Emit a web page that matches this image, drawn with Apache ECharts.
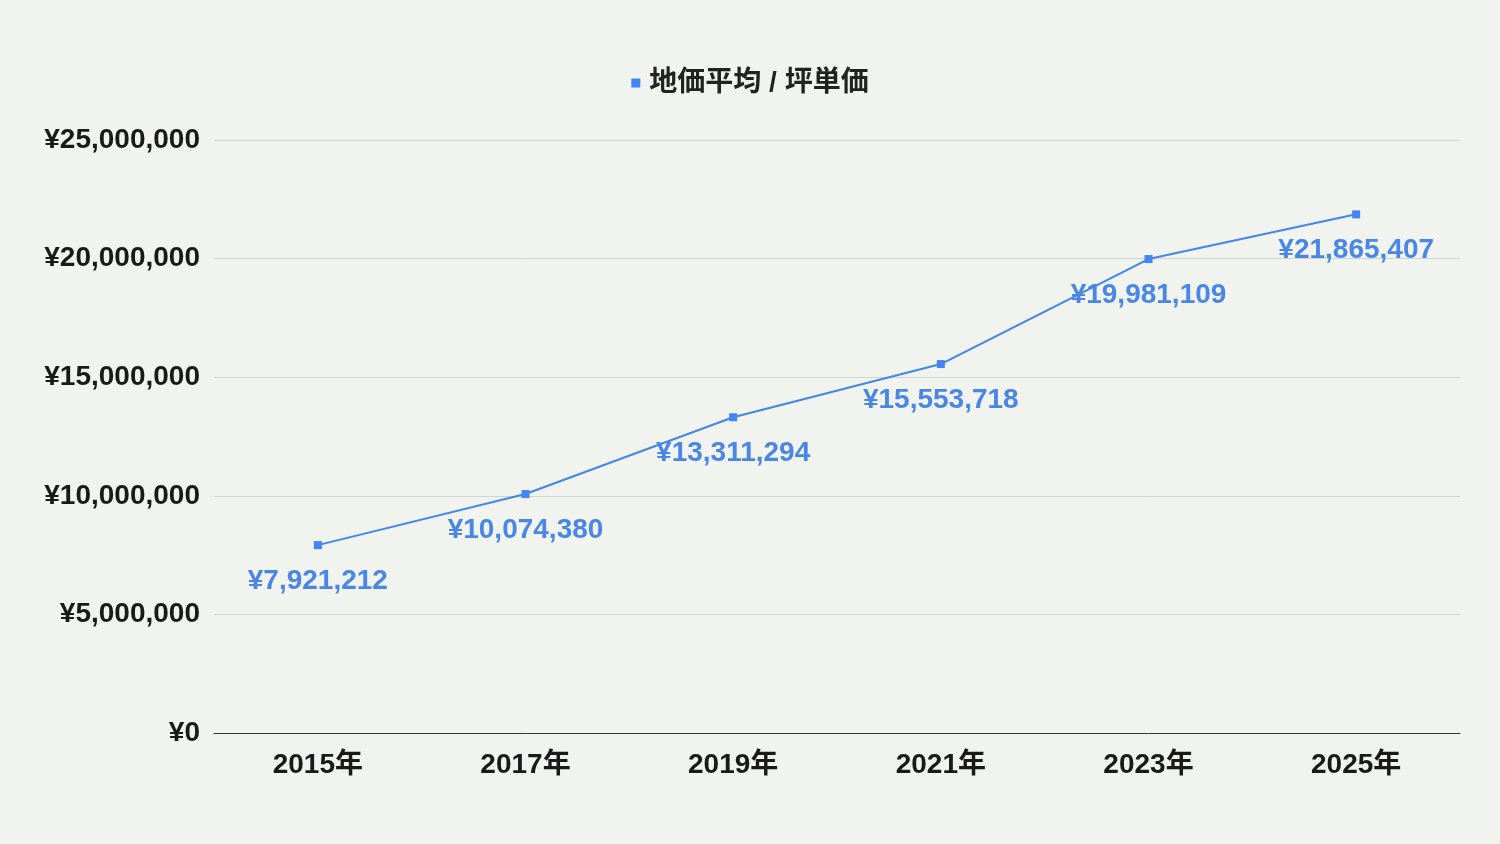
<!DOCTYPE html>
<html><head><meta charset="utf-8">
<script src="https://cdn.jsdelivr.net/npm/echarts@6/dist/echarts.min.js"></script>
<style>html,body{margin:0;padding:0;background:#f1f3ee;}#c{width:1500px;height:844px;}</style>
</head><body><div id="c"></div>
<script>
const categories = ['2015年','2017年','2019年','2021年','2023年','2025年'];
const values = [7921212, 10074380, 13311294, 15553718, 19981109, 21865407];
const seriesName = '地価平均 / 坪単価';
const yTicks = {min: 0, max: 25000000, interval: 5000000};

const yen = v => '¥' + Math.round(v).toLocaleString('en-US');
const font = '"Liberation Sans","Noto Sans CJK JP",sans-serif';
const chart = echarts.init(document.getElementById('c'));
chart.setOption({
  backgroundColor: '#f1f3ee',
  textStyle: {fontFamily: font},
  legend: {
    top: 64, left: 'center', itemWidth: 9, itemHeight: 9, icon: 'rect', itemGap: 10,
    textStyle: {fontSize: 28, fontWeight: 'bold', color: '#222', fontFamily: font, padding: [0, 0, 0, 4]},
    data: [seriesName]
  },
  grid: {left: 214, right: 40, top: 140, bottom: 111},
  xAxis: {
    type: 'category', data: categories, boundaryGap: true,
    axisLine: {lineStyle: {color: '#333', width: 1}},
    axisTick: {show: false},
    axisLabel: {fontSize: 28, fontWeight: 'bold', color: '#1a1a1a', margin: 18, fontFamily: font}
  },
  yAxis: {
    type: 'value', min: yTicks.min, max: yTicks.max, interval: yTicks.interval,
    axisLine: {show: false}, axisTick: {show: false},
    splitLine: {lineStyle: {color: '#d2d4cf', width: 1}},
    axisLabel: {fontSize: 28, fontWeight: 'bold', color: '#1a1a1a', margin: 14, formatter: yen, fontFamily: font,
      padding: [3, 0, 0, 0]}
  },
  series: [{
    name: seriesName, type: 'line', data: values,
    symbol: 'rect', symbolSize: 8,
    itemStyle: {color: '#4285f4'},
    lineStyle: {color: '#4285f4', width: 2},
    label: {show: true, position: 'bottom', distance: 18, formatter: p => yen(p.value),
      fontSize: 28, fontWeight: 'bold', color: '#4a86e8', fontFamily: font}
  }]
});
</script></body></html>
